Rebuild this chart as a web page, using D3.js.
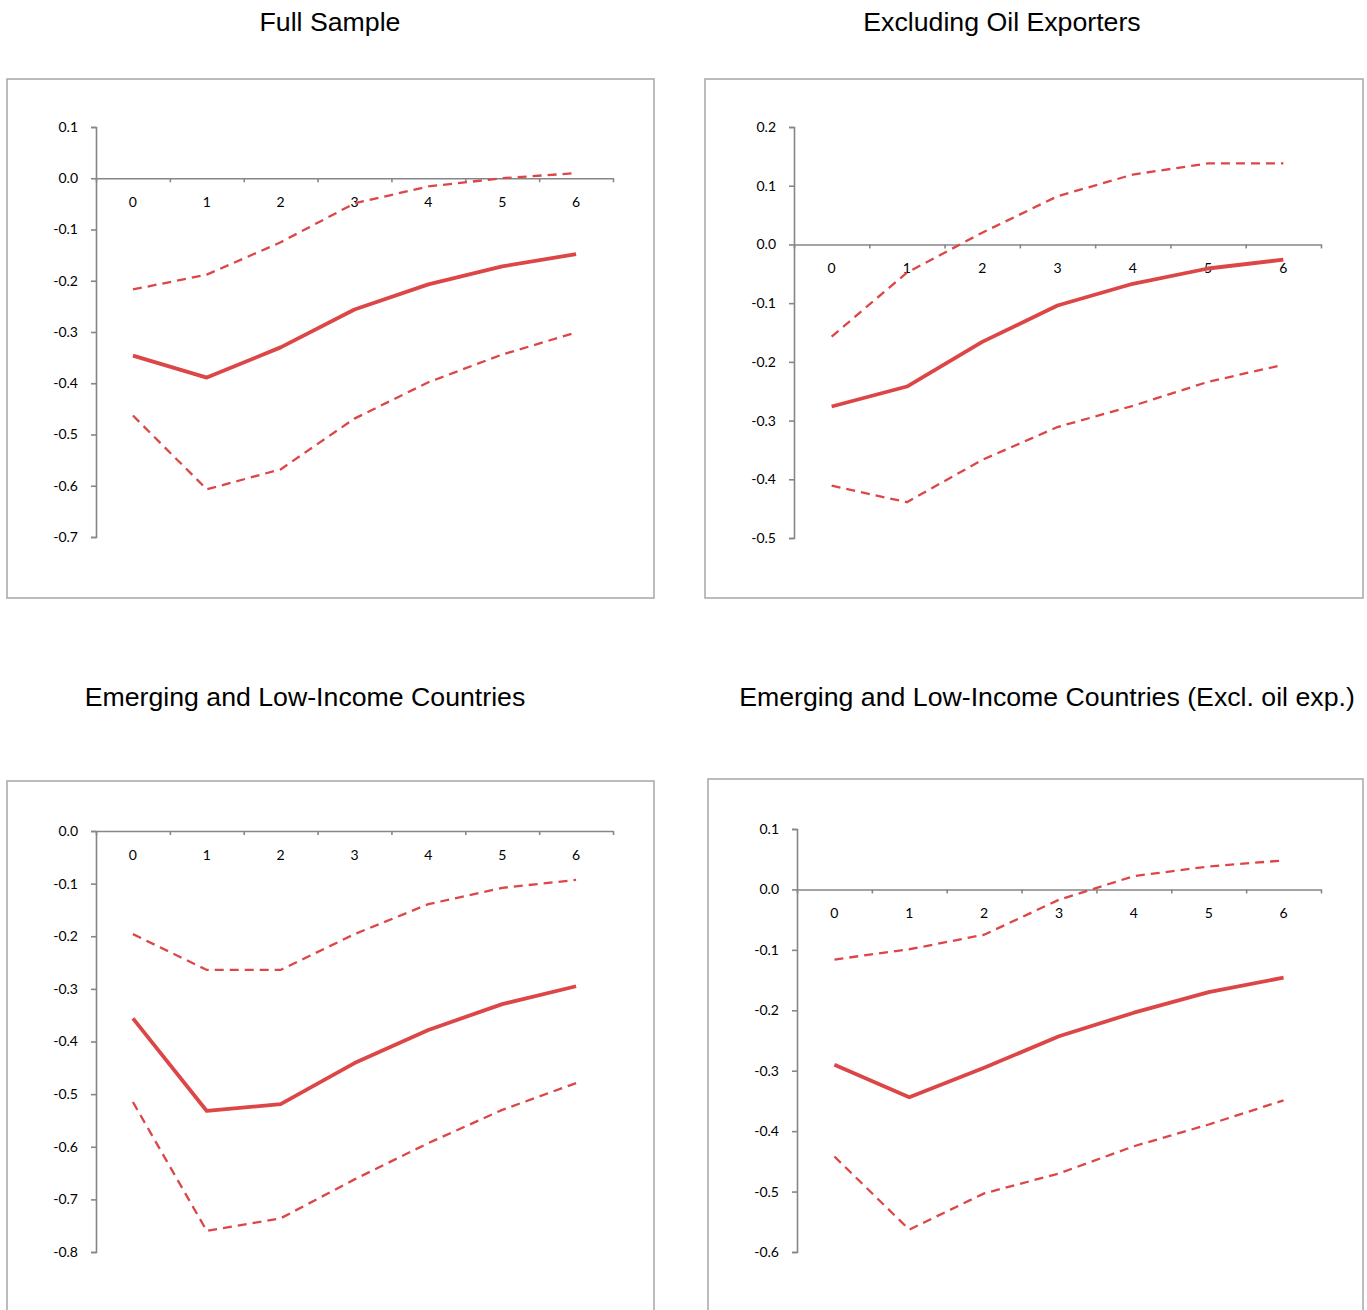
<!DOCTYPE html>
<html>
<head>
<meta charset="utf-8">
<script src="https://cdn.jsdelivr.net/npm/d3@7"></script>
<style>
  body { margin: 0; background: #fff; }
  .title { font-family: "Liberation Sans", Arial, sans-serif; font-size: 26.7px; fill: #000; }
  .tick text, .xlab { font-family: Lato, "Open Sans", sans-serif; font-size: 14px; fill: #000; }
</style>
</head>
<body>
<svg id="chart" width="1367" height="1310"></svg>
<script>
// horizons
const periods = [0, 1, 2, 3, 4, 5, 6];

// Full Sample
const fullMain  = [-0.346, -0.389, -0.330, -0.256, -0.207, -0.172, -0.148];
const fullUpper = [-0.217, -0.188, -0.125, -0.049, -0.016, 0.000, 0.010];
const fullLower = [-0.463, -0.607, -0.568, -0.469, -0.398, -0.344, -0.301];
const fullTicks = [0.1, 0.0, -0.1, -0.2, -0.3, -0.4, -0.5, -0.6, -0.7];

// Excluding Oil Exporters
const exOilMain  = [-0.276, -0.242, -0.166, -0.104, -0.067, -0.041, -0.026];
const exOilUpper = [-0.157, -0.048, 0.020, 0.082, 0.119, 0.138, 0.138];
const exOilLower = [-0.411, -0.439, -0.367, -0.311, -0.275, -0.234, -0.205];
const exOilTicks = [0.2, 0.1, 0.0, -0.1, -0.2, -0.3, -0.4, -0.5];

// Emerging and Low-Income Countries
const emMain  = [-0.356, -0.532, -0.519, -0.441, -0.378, -0.329, -0.295];
const emUpper = [-0.196, -0.264, -0.264, -0.196, -0.139, -0.108, -0.093];
const emLower = [-0.515, -0.760, -0.736, -0.662, -0.593, -0.530, -0.479];
const emTicks = [0.0, -0.1, -0.2, -0.3, -0.4, -0.5, -0.6, -0.7, -0.8];

// Emerging and Low-Income Countries (Excl. oil exp.)
const emExMain  = [-0.290, -0.344, -0.295, -0.243, -0.204, -0.170, -0.146];
const emExUpper = [-0.116, -0.099, -0.075, -0.017, 0.022, 0.038, 0.048];
const emExLower = [-0.442, -0.563, -0.503, -0.470, -0.425, -0.389, -0.349];
const emExTicks = [0.1, 0.0, -0.1, -0.2, -0.3, -0.4, -0.5, -0.6];

const red = '#dc4646';
const grey = '#868686';

const svg = d3.select('#chart');

function drawPanel(p) {
  // titulo
  svg.append('text')
    .attr('class', 'title')
    .attr('x', p.titleX)
    .attr('y', p.titleY)
    .attr('text-anchor', 'middle')
    .text(p.title);

  // marco
  svg.append('rect')
    .attr('x', p.box[0]).attr('y', p.box[1])
    .attr('width', p.box[2] - p.box[0]).attr('height', p.box[3] - p.box[1])
    .attr('fill', 'none').attr('stroke', '#a6a6a6').attr('stroke-width', 1.5);

  const y = d3.scaleLinear()
    .domain([d3.min(p.ticks), d3.max(p.ticks)])
    .range([p.yBottom, p.yTop]);
  const x = d3.scaleLinear()
    .domain([-0.5, periods.length - 0.5])
    .range([p.xLeft, p.xRight]);

  const yAxis = svg.append('g')
    .attr('transform', `translate(${p.xLeft},0)`)
    .call(d3.axisLeft(y).tickValues(p.ticks).tickSize(5).tickPadding(13)
      .tickFormat(d => d.toFixed(1)));
  yAxis.selectAll('path, line').attr('stroke', grey).attr('stroke-width', 1.6);

  const xAxis = svg.append('g')
    .attr('transform', `translate(0,${y(0)})`)
    .call(d3.axisBottom(x).tickValues(d3.range(-0.5, periods.length, 1)).tickSize(4).tickSizeOuter(0)
      .tickFormat(''));
  xAxis.selectAll('path, line').attr('stroke', grey).attr('stroke-width', 1.6);

  svg.selectAll(null)
    .data(periods)
    .enter()
    .append('text')
    .attr('class', 'xlab')
    .attr('x', d => x(d))
    .attr('y', y(0) + 29)
    .attr('text-anchor', 'middle')
    .text(d => d);

  const line = d3.line()
    .x((d, i) => x(periods[i]))
    .y(d => y(d));

  [p.upper, p.lower].forEach(s => {
    svg.append('path')
      .datum(s)
      .attr('d', line)
      .attr('fill', 'none')
      .attr('stroke', red)
      .attr('stroke-width', 2.3)
      .attr('stroke-dasharray', '9,6');
  });

  svg.append('path')
    .datum(p.main)
    .attr('d', line)
    .attr('fill', 'none')
    .attr('stroke', red)
    .attr('stroke-width', 3.8)
    .attr('stroke-linejoin', 'round');
}

drawPanel({
  title: 'Full Sample', titleX: 330, titleY: 31,
  box: [7, 79, 654, 598],
  xLeft: 96, xRight: 613, yTop: 127, yBottom: 537,
  ticks: fullTicks, main: fullMain, upper: fullUpper, lower: fullLower
});

drawPanel({
  title: 'Excluding Oil Exporters', titleX: 1002, titleY: 31,
  box: [705, 79, 1363, 598],
  xLeft: 794, xRight: 1321, yTop: 127, yBottom: 538,
  ticks: exOilTicks, main: exOilMain, upper: exOilUpper, lower: exOilLower
});

drawPanel({
  title: 'Emerging and Low-Income Countries', titleX: 305, titleY: 706,
  box: [7, 781, 654, 1340],
  xLeft: 96, xRight: 613, yTop: 831, yBottom: 1252,
  ticks: emTicks, main: emMain, upper: emUpper, lower: emLower
});

drawPanel({
  title: 'Emerging and Low-Income Countries (Excl. oil exp.)', titleX: 1047, titleY: 706,
  box: [708, 779, 1363, 1340],
  xLeft: 797, xRight: 1321, yTop: 829, yBottom: 1252,
  ticks: emExTicks, main: emExMain, upper: emExUpper, lower: emExLower
});
</script>
</body>
</html>
